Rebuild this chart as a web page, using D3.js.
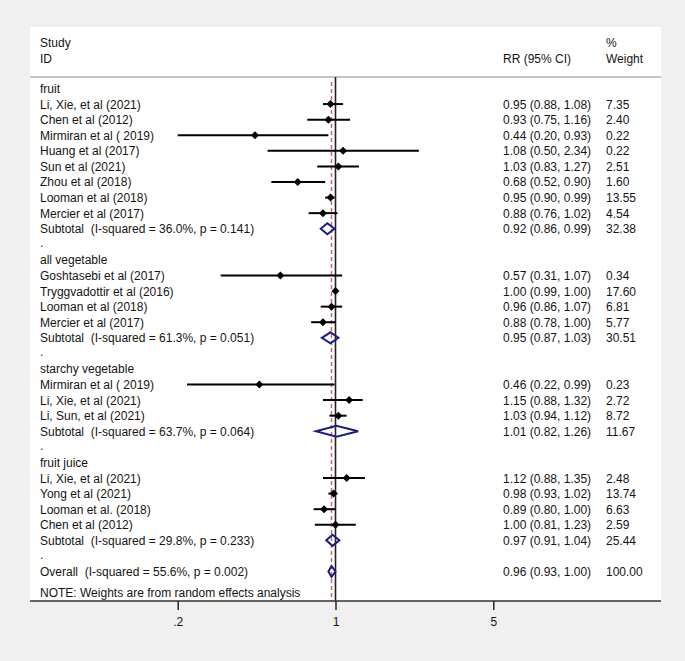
<!DOCTYPE html>
<html>
<head>
<meta charset="utf-8">
<script src="https://cdn.jsdelivr.net/npm/d3@7"></script>
<style>
  html, body { margin: 0; padding: 0; background: #f0f0f0; }
  svg { display: block; }
  text { font-family: "Liberation Sans", Arial, sans-serif; font-size: 12px; fill: #141414; white-space: pre; }
</style>
</head>
<body>
<div id="chart"></div>
<script>
// ---------- DATA ----------
const groupNames = ["fruit", "all vegetable", "starchy vegetable", "fruit juice"];

const studyNames = [
  "Li, Xie, et al (2021)", "Chen et al (2012)", "Mirmiran et al ( 2019)", "Huang et al (2017)",
  "Sun et al (2021)", "Zhou et al (2018)", "Looman et al (2018)", "Mercier et al (2017)",
  "Goshtasebi et al (2017)", "Tryggvadottir et al (2016)", "Looman et al (2018)", "Mercier et al (2017)",
  "Mirmiran et al ( 2019)", "Li, Xie, et al (2021)", "Li, Sun, et al (2021)",
  "Li, Xie, et al (2021)", "Yong et al (2021)", "Looman et al. (2018)", "Chen et al (2012)"
];
const studyGroup = [0,0,0,0,0,0,0,0, 1,1,1,1, 2,2,2, 3,3,3,3];
const studyRR    = [0.95, 0.93, 0.44, 1.08, 1.03, 0.68, 0.95, 0.88, 0.57, 1.00, 0.96, 0.88, 0.46, 1.15, 1.03, 1.12, 0.98, 0.89, 1.00];
const studyLow   = [0.88, 0.75, 0.20, 0.50, 0.83, 0.52, 0.90, 0.76, 0.31, 0.99, 0.86, 0.78, 0.22, 0.88, 0.94, 0.88, 0.93, 0.80, 0.81];
const studyHigh  = [1.08, 1.16, 0.93, 2.34, 1.27, 0.90, 0.99, 1.02, 1.07, 1.00, 1.07, 1.00, 0.99, 1.32, 1.12, 1.35, 1.02, 1.00, 1.23];
const studyWeight = ["7.35","2.40","0.22","0.22","2.51","1.60","13.55","4.54","0.34","17.60","6.81","5.77","0.23","2.72","8.72","2.48","13.74","6.63","2.59"];

const subtotalI2 = ["36.0%", "61.3%", "63.7%", "29.8%"];
const subtotalP  = ["0.141", "0.051", "0.064", "0.233"];
const subtotalRR   = [0.92, 0.95, 1.01, 0.97];
const subtotalLow  = [0.86, 0.87, 0.82, 0.91];
const subtotalHigh = [0.99, 1.03, 1.26, 1.04];
const subtotalWeight = ["32.38", "30.51", "11.67", "25.44"];

const overallI2 = "55.6%", overallP = "0.002";
const overallRR = 0.96, overallLow = 0.93, overallHigh = 1.00, overallWeight = "100.00";

const tickValues = [0.2, 1, 5];
const tickLabels = [".2", "1", "5"];

// ---------- LAYOUT ----------
const W = 685, H = 661;
const panel = {x: 30, y: 27, w: 631, h: 574};
const colLabel = 40, colRR = 503, colW = 606;
const fmt = d3.format(".2f");

// Build row list from data
const rows = [];
groupNames.forEach((g, gi) => {
  rows.push({type: "group", label: g});
  studyNames.forEach((s, i) => {
    if (studyGroup[i] === gi) rows.push({type: "study", label: s, rr: studyRR[i], lo: studyLow[i], hi: studyHigh[i], w: studyWeight[i]});
  });
  rows.push({type: "sub", label: `Subtotal  (I-squared = ${subtotalI2[gi]}, p = ${subtotalP[gi]})`,
             rr: subtotalRR[gi], lo: subtotalLow[gi], hi: subtotalHigh[gi], w: subtotalWeight[gi]});
  rows.push({type: "dot", label: "."});
});
rows.push({type: "overall", label: `Overall  (I-squared = ${overallI2}, p = ${overallP})`,
           rr: overallRR, lo: overallLow, hi: overallHigh, w: overallWeight});

const x = d3.scaleLog().domain([0.2, 5]).range([177.7, 493.3]);
const y = d3.scaleLinear().domain([0, rows.length - 1]).range([88.5, 571.5]);

const svg = d3.select("#chart").append("svg").attr("width", W).attr("height", H);
svg.append("rect").attr("width", W).attr("height", H).attr("fill", "#f0f0f0");
svg.append("rect").attr("x", panel.x).attr("y", panel.y).attr("width", panel.w).attr("height", panel.h).attr("fill", "#ffffff");

// header
svg.append("text").attr("x", colLabel).attr("y", 47).text("Study");
svg.append("text").attr("x", colLabel).attr("y", 63).text("ID");
svg.append("text").attr("x", colRR).attr("y", 63).text("RR (95% CI)");
svg.append("text").attr("x", colW).attr("y", 47).text("%");
svg.append("text").attr("x", colW).attr("y", 63).text("Weight");
svg.append("line").attr("x1", panel.x).attr("x2", panel.x + panel.w).attr("y1", 77).attr("y2", 77)
  .attr("stroke", "#c4c4c4").attr("stroke-width", 2);

// reference lines
svg.append("line").attr("x1", x(1)).attr("x2", x(1)).attr("y1", 77).attr("y2", 601)
  .attr("stroke", "#222").attr("stroke-width", 1.6);
svg.append("line").attr("x1", x(overallRR)).attr("x2", x(overallRR)).attr("y1", 82).attr("y2", 601)
  .attr("stroke", "#c46a72").attr("stroke-width", 1.5).attr("stroke-dasharray", "4,3");

// rows
const g = svg.append("g");
rows.forEach((r, i) => {
  const cy = y(i);
  const base = cy + 4.5;
  if (r.type === "dot") {
    g.append("text").attr("x", colLabel).attr("y", base - 1.5).attr("font-size", 7).text(".");
    return;
  }
  g.append("text").attr("x", colLabel).attr("y", base).text(r.label);
  if (r.type === "group") return;
  g.append("text").attr("x", colRR).attr("y", base).text(`${fmt(r.rr)} (${fmt(r.lo)}, ${fmt(r.hi)})`);
  g.append("text").attr("x", colW).attr("y", base).text(r.w);
  if (r.type === "study") {
    g.append("line").attr("x1", x(r.lo)).attr("x2", x(r.hi)).attr("y1", cy).attr("y2", cy)
      .attr("stroke", "#000").attr("stroke-width", 2);
    const cx = x(r.rr);
    g.append("path").attr("d", `M${cx - 4},${cy} L${cx},${cy - 4} L${cx + 4},${cy} L${cx},${cy + 4} Z`).attr("fill", "#000");
  } else {
    const h = 5.5;
    g.append("path")
      .attr("d", `M${x(r.lo)},${cy} L${x(r.rr)},${cy - h} L${x(r.hi)},${cy} L${x(r.rr)},${cy + h} Z`)
      .attr("fill", "none").attr("stroke", "#1c1c84").attr("stroke-width", 2).attr("stroke-linejoin", "miter");
  }
});

// note
svg.append("text").attr("x", colLabel).attr("y", 597).text("NOTE: Weights are from random effects analysis");

// axis
svg.append("line").attr("x1", panel.x).attr("x2", panel.x + panel.w).attr("y1", 601).attr("y2", 601)
  .attr("stroke", "#333").attr("stroke-width", 1.6);
const axis = d3.axisBottom(x).tickValues(tickValues).tickSize(9).tickPadding(7)
  .tickFormat((d, i) => tickLabels[i]);
const ax = svg.append("g").attr("transform", "translate(0,601)").call(axis);
ax.select(".domain").remove();
ax.selectAll(".tick line").attr("stroke", "#333").attr("stroke-width", 1.6);
ax.selectAll(".tick text").attr("font-size", 12).attr("font-family", "Liberation Sans, Arial, sans-serif").attr("fill", "#141414");
</script>
</body>
</html>
